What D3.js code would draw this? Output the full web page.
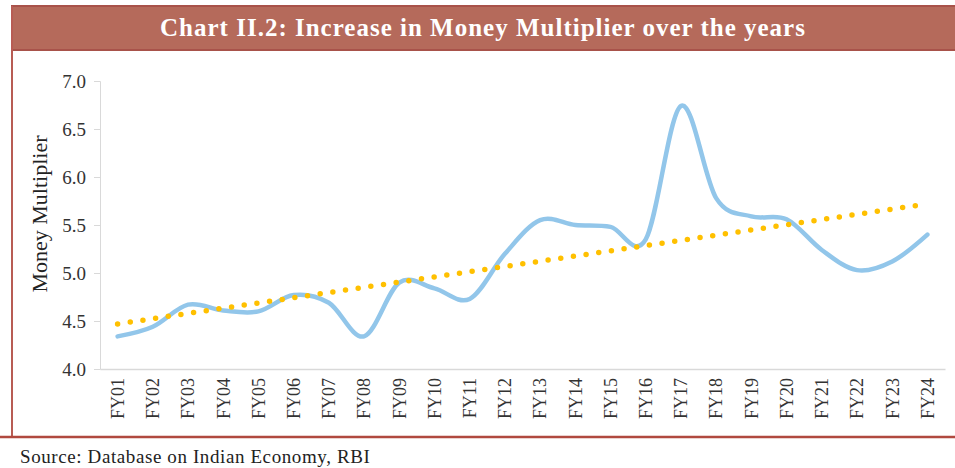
<!DOCTYPE html>
<html>
<head>
<meta charset="utf-8">
<script src="https://cdn.jsdelivr.net/npm/d3@7"></script>
<style>
  body { margin: 0; background: #fff; }
  svg { display: block; font-family: "Liberation Serif", "DejaVu Serif", serif; }
</style>
</head>
<body>
<svg id="chart" width="955" height="468"></svg>
<script>
// data
var years = ["FY01","FY02","FY03","FY04","FY05","FY06","FY07","FY08","FY09","FY10","FY11","FY12",
             "FY13","FY14","FY15","FY16","FY17","FY18","FY19","FY20","FY21","FY22","FY23","FY24"];
var multiplier = [4.34, 4.44, 4.67, 4.61, 4.60, 4.77, 4.69, 4.34, 4.90, 4.84, 4.73, 5.20,
                  5.55, 5.50, 5.48, 5.35, 6.74, 5.78, 5.59, 5.56, 5.24, 5.03, 5.12, 5.40];
var trendYears = ["FY01", "FY24"];
var trendValues = [4.47, 5.72];
var yTicks = [4.0, 4.5, 5.0, 5.5, 6.0, 6.5, 7.0];

var width = 955, height = 468;
var svg = d3.select("#chart");

// frame and title bar
svg.append("rect")
  .attr("x", 12).attr("y", 6)
  .attr("width", 960).attr("height", 44)
  .attr("fill", "#b56a5b")
  .attr("stroke", "#a8524a")
  .attr("stroke-width", 2);

svg.append("line")
  .attr("x1", 12).attr("x2", 12)
  .attr("y1", 6).attr("y2", 437)
  .attr("stroke", "#b85c54")
  .attr("stroke-width", 2);

svg.append("line")
  .attr("x1", 0).attr("x2", width)
  .attr("y1", 437).attr("y2", 437)
  .attr("stroke", "#b0493f")
  .attr("stroke-width", 2.5);

svg.append("text")
  .attr("x", 483).attr("y", 36)
  .attr("text-anchor", "middle")
  .attr("fill", "#fff")
  .attr("font-weight", "bold")
  .attr("font-size", 25)
  .attr("letter-spacing", 1)
  .text("Chart II.2: Increase in Money Multiplier over the years");

svg.append("text")
  .attr("x", 20).attr("y", 463)
  .attr("fill", "#222")
  .attr("font-size", 19)
  .attr("letter-spacing", 0.6)
  .text("Source: Database on Indian Economy, RBI");

// scales
var x = d3.scaleBand().domain(years).range([100, 945]);
var y = d3.scaleLinear().domain([4, 7]).range([369, 81]);
var cx = function(d) { return x(d) + x.bandwidth() / 2; };

// y axis
var yAxis = svg.append("g")
  .attr("transform", "translate(100,0)")
  .call(d3.axisLeft(y).tickValues(yTicks).tickFormat(d3.format(".1f")).tickSizeOuter(0).tickSize(6));
yAxis.select(".domain").attr("stroke", "#d9d9d9");
yAxis.selectAll(".tick line").attr("stroke", "#d9d9d9");
yAxis.selectAll(".tick text")
  .attr("x", -14)
  .attr("fill", "#333")
  .attr("font-size", 19)
  .attr("font-family", "Liberation Serif, serif");

// x axis
var xAxis = svg.append("g")
  .attr("transform", "translate(0,369)")
  .call(d3.axisBottom(x).tickSize(0).tickSizeOuter(0));
xAxis.select(".domain").attr("stroke", "#d9d9d9").attr("stroke-width", 1.5);
xAxis.selectAll(".tick text")
  .attr("transform", "rotate(-90)")
  .attr("text-anchor", "end")
  .attr("x", -9)
  .attr("y", 0)
  .attr("dy", "0.35em")
  .attr("fill", "#333")
  .attr("font-size", 18)
  .attr("font-family", "Liberation Serif, serif");

// axis title
svg.append("text")
  .attr("transform", "translate(47,214) rotate(-90)")
  .attr("text-anchor", "middle")
  .attr("fill", "#222")
  .attr("font-size", 22)
  .text("Money Multiplier");

// smoothed money multiplier line
var line = d3.line()
  .x(function(d, i) { return cx(years[i]); })
  .y(function(d) { return y(d); })
  .curve(d3.curveCardinal.tension(0));

svg.append("path")
  .datum(multiplier)
  .attr("d", line)
  .attr("fill", "none")
  .attr("stroke", "#92c6ea")
  .attr("stroke-width", 4.5)
  .attr("stroke-linecap", "round");

// dotted linear trend
var trend = d3.line()
  .x(function(d, i) { return cx(trendYears[i]); })
  .y(function(d) { return y(d); });

svg.append("path")
  .datum(trendValues)
  .attr("d", trend)
  .attr("fill", "none")
  .attr("stroke", "#ffc000")
  .attr("stroke-width", 5.5)
  .attr("stroke-linecap", "round")
  .attr("stroke-dasharray", "0,12.8");
</script>
</body>
</html>
